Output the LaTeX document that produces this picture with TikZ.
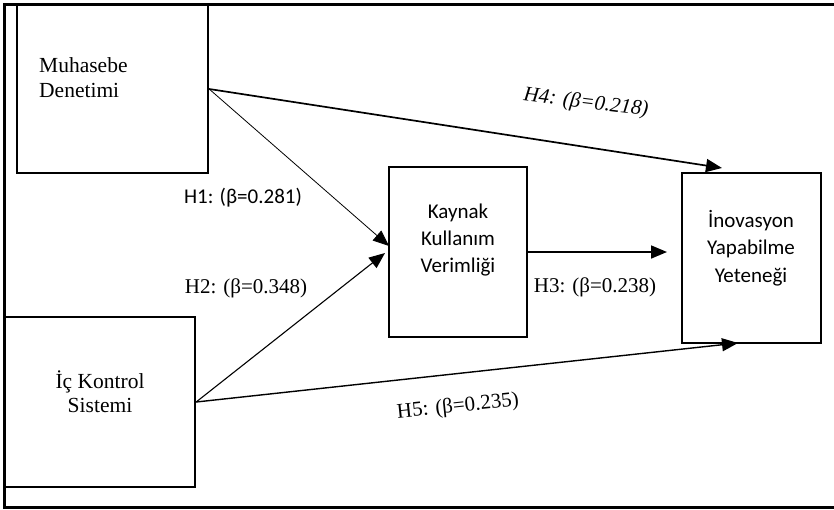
\documentclass[tikz,border=0pt]{standalone}
\usepackage{fontspec}
\setmainfont{Liberation Serif}
\newfontfamily\calibri{Carlito}
\usetikzlibrary{arrows.meta}

\tikzstyle{var box}=[draw, rectangle, line width=2.3pt, inner sep=0pt, minimum height=#1]
\tikzstyle{var text}=[inner sep=0pt, align=center, font=\fontsize{21}{27}\selectfont]
\tikzstyle{beta label}=[inner sep=0pt, font=\fontsize{21}{25}\selectfont]
\tikzstyle{path arrow}=[line width=#1, -{Triangle[length=16pt,width=13pt]}]

\begin{document}
\begin{tikzpicture}[x=1pt, y=-1pt]
		\useasboundingbox (0,0) rectangle (834,509);
		\draw[line width=3pt] (4,4) rectangle (860,507);

		\node [var box=168, minimum width=191] (MD) at (112.5,89) {};
		\node [var box=170, minimum width=138] (KKV) at (458,252) {};
		\node [var box=170, minimum width=139] (IYY) at (751.5,258) {};
		\node [var box=170, minimum width=190] (IKS) at (100,402) {};

		\node [var text, align=left, anchor=west, font=\fontsize{21.5}{25}\selectfont] (MDtext) at (39,77.5) {Muhasebe\\Denetimi};
		\node [var text, font=\calibri\fontsize{21}{27}\selectfont] (KKVtext) at (458,240.5) {Kaynak\\Kullanım\\Verimliği};
		\node [var text, font=\calibri\fontsize{21}{27.5}\selectfont] (IYYtext) at (751,248) {İnovasyon\\Yapabilme\\Yeteneği};
		\node [var text, font=\fontsize{21.5}{24}\selectfont] (IKStext) at (100,391.5) {İç Kontrol\\Sistemi};

		\coordinate (H1end) at (389,246);
		\coordinate (H2end) at (385,253);
		\coordinate (H3end) at (667,252);
		\coordinate (H4end) at (722,168);
		\coordinate (H5end) at (738,343);

		\draw [path arrow=1.7pt] (MD.east) -- (H4end);
		\draw [path arrow=0.8pt] (MD.east) -- (H1end);
		\draw [path arrow=1.1pt] (IKS.east) -- (H2end);
		\draw [path arrow=1.7pt] (KKV.east) -- (H3end);
		\draw [path arrow=1.4pt] (IKS.east) -- (H5end);

		\node [beta label, font=\calibri\fontsize{21}{25}\selectfont] (H1) at (243,198) {H1: (β=0.281)};
		\node [beta label] (H2) at (246,288) {H2: (β=0.348)};
		\node [beta label] (H3) at (595,287) {H3: (β=0.238)};
		\node [beta label, font=\itshape\fontsize{21}{25}\selectfont, rotate=-7] (H4) at (586,103) {H4: (β=0.218)};
		\node [beta label, rotate=6] (H5) at (458,407) {H5: (β=0.235)};
	\end{tikzpicture}
\end{document}
